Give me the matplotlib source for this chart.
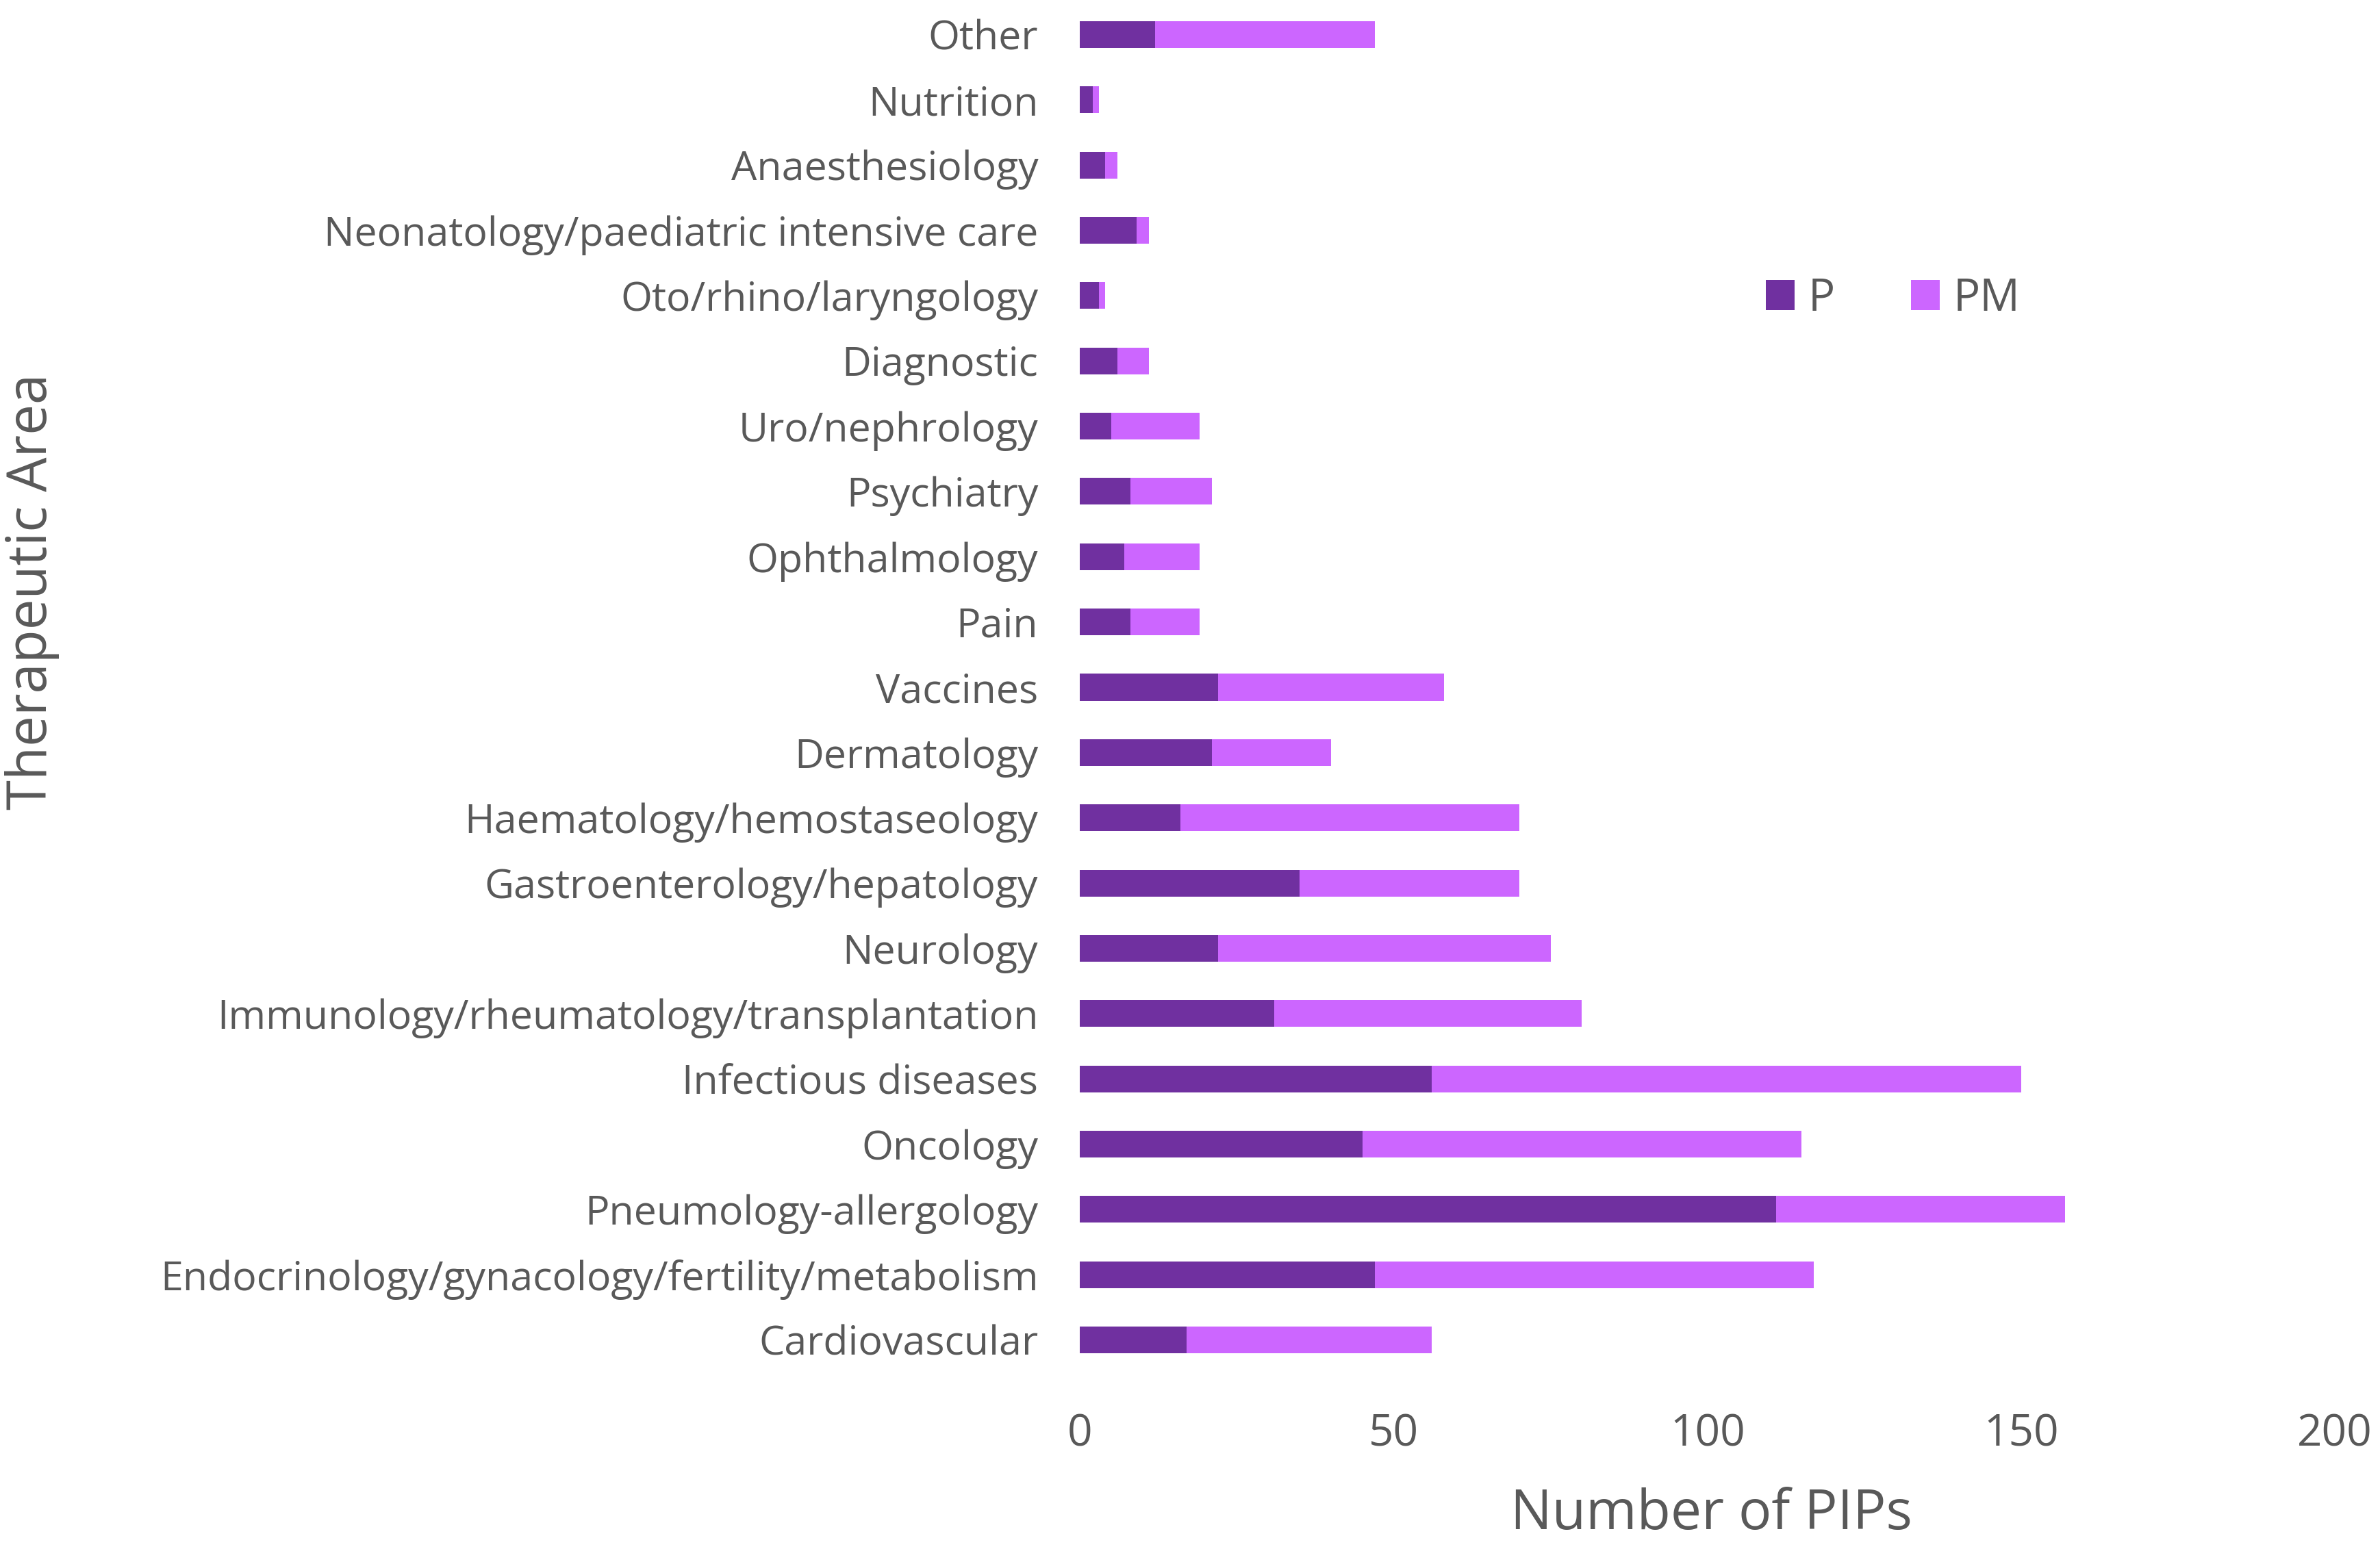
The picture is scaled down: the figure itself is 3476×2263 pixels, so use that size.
import matplotlib
matplotlib.use("Agg")
import matplotlib.pyplot as plt

categories = ["Cardiovascular", "Endocrinology/gynacology/fertility/metabolism",
              "Pneumology-allergology", "Oncology", "Infectious diseases",
              "Immunology/rheumatology/transplantation", "Neurology",
              "Gastroenterology/hepatology", "Haematology/hemostaseology",
              "Dermatology", "Vaccines", "Pain", "Ophthalmology", "Psychiatry",
              "Uro/nephrology", "Diagnostic", "Oto/rhino/laryngology",
              "Neonatology/paediatric intensive care", "Anaesthesiology",
              "Nutrition", "Other"]
p_values = [17, 47, 111, 45, 56, 31, 22, 35, 16, 21, 22, 8, 7, 8, 5, 6, 3, 9, 4, 2, 12]
pm_values = [39, 70, 46, 70, 94, 49, 53, 35, 54, 19, 36, 11, 12, 13, 14, 5, 1, 2, 2, 1, 35]
x_ticks = [0, 50, 100, 150, 200]

plt.rcParams['font.family'] = ['Open Sans', 'DejaVu Sans']
gray = '#595959'

fig = plt.figure(figsize=(17.38, 11.315), dpi=200)
ax = fig.add_axes([0.4538, 0.1139, 0.981 - 0.4538, 0.9988 - 0.1139])

y = list(range(len(categories)))
h = 0.41
ax.barh(y, p_values, height=h, color='#7030A0', label='P')
ax.barh(y, pm_values, left=p_values, height=h, color='#CC66FF', label='PM')

ax.set_xlim(0, 200)
ax.set_ylim(-0.5, len(categories) - 0.5)
ax.set_xticks(x_ticks)
ax.set_xticklabels([str(t) for t in x_ticks])
ax.set_yticks(y)
ax.set_yticklabels(categories)
for s in ax.spines.values():
    s.set_visible(False)
ax.tick_params(axis='both', length=0, colors=gray)
ax.tick_params(axis='x', pad=21, labelsize=23)
ax.tick_params(axis='y', pad=22, labelsize=21.3)

fig.text(0.719, 0.022, "Number of PIPs", ha='center', va='center', fontsize=29, color=gray)
fig.text(0.0135, 0.618, "Therapeutic Area", ha='center', va='center', rotation=90, fontsize=28.7, color=gray)

leg = fig.legend(loc='center left', bbox_to_anchor=(0.742, 0.8069), ncol=2, frameon=False,
                 fontsize=23.5, handlelength=0.645, handleheight=0.645, columnspacing=1.7,
                 handletextpad=0.3, borderpad=0, borderaxespad=0)
for t in leg.get_texts():
    t.set_color(gray)

fig.savefig("out.png", dpi=200)
